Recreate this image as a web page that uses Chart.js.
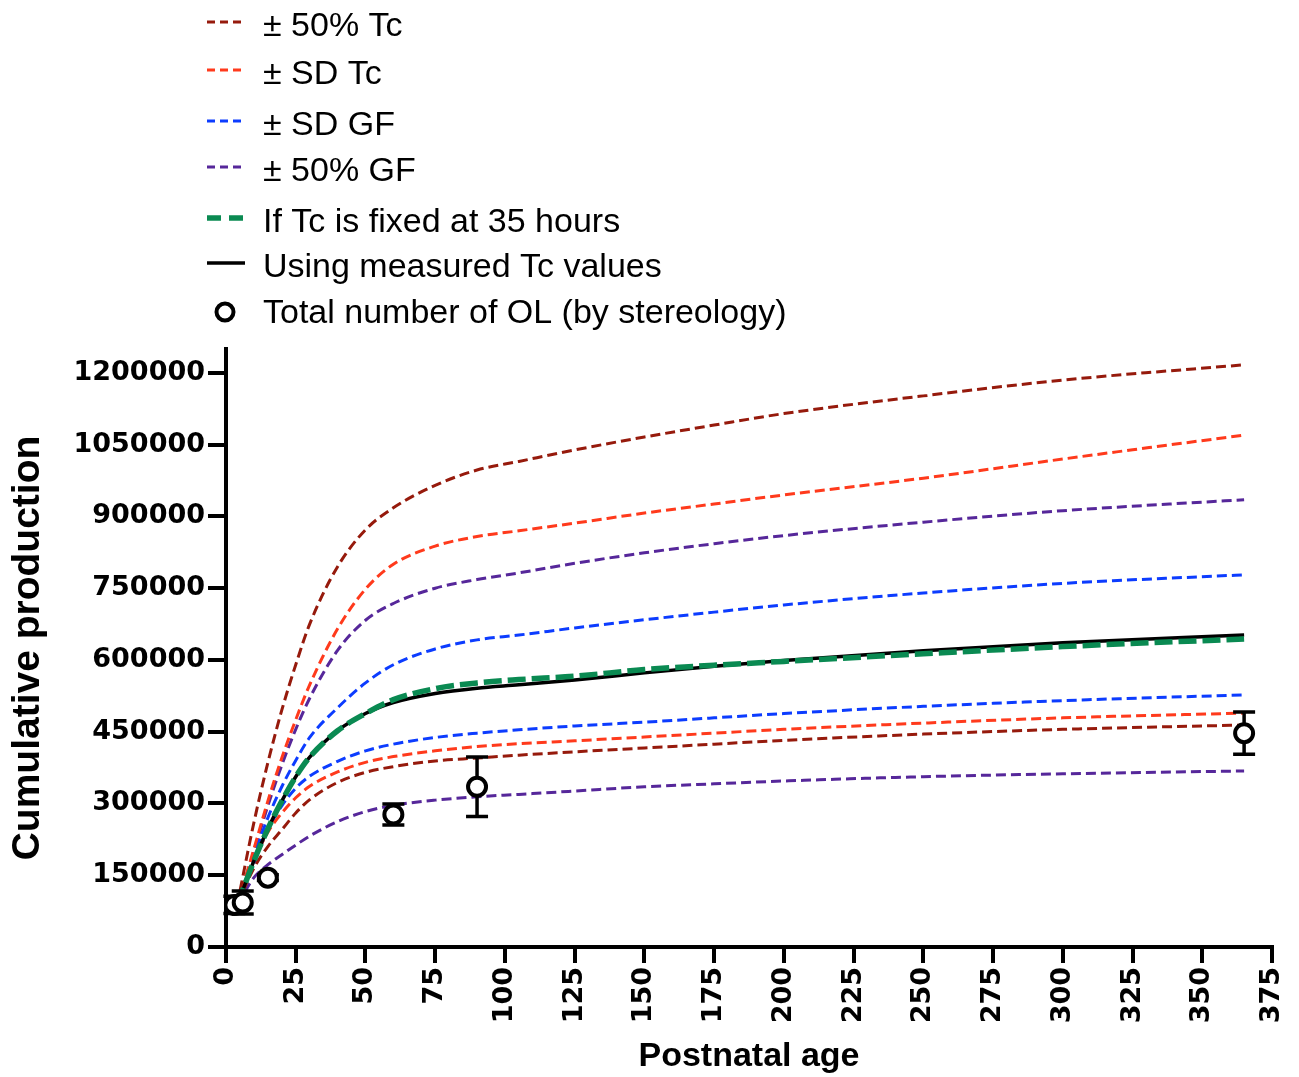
<!DOCTYPE html>
<html>
<head>
<meta charset="utf-8">
<script src="https://cdn.jsdelivr.net/npm/chart.js@4.4.1/dist/chart.umd.min.js"></script>
<style>
  html, body { margin: 0; padding: 0; background: #fff; }
  #wrap { width: 1299px; height: 1077px; position: relative; }
</style>
</head>
<body>
<div id="wrap"><canvas id="c"></canvas></div>
<script>
// ---------- DATA ----------
const AGE = [4, 10, 15, 20, 25, 30, 40, 50, 60, 75, 90, 105, 125, 150, 175, 200, 250, 300, 365];

const TC50_UP  = [88000, 260000, 385000, 495000, 590000, 675000, 795000, 872000, 918000, 965000, 997000, 1015000, 1039000, 1066000, 1091000, 1115000, 1152000, 1185000, 1217000];
const TC50_LOW = [88000, 165000, 210000, 245000, 280000, 308000, 344000, 365000, 377000, 389000, 395000, 401000, 408000, 416000, 424000, 432000, 445000, 455000, 464000];
const TCSD_UP  = [88000, 205000, 305000, 395000, 475000, 548000, 665000, 748000, 800000, 838000, 858000, 870000, 886000, 907000, 926000, 945000, 980000, 1020000, 1070000];
const TCSD_LOW = [88000, 180000, 240000, 280000, 312000, 336000, 366000, 386000, 398000, 410000, 419000, 425000, 431000, 439000, 447000, 455000, 468000, 479000, 489000];
const GFSD_UP  = [88000, 190000, 270000, 335000, 390000, 438000, 500000, 552000, 590000, 623000, 642000, 652000, 667000, 684000, 700000, 715000, 740000, 760000, 778000];
const GFSD_LOW = [88000, 175000, 245000, 295000, 332000, 357000, 388000, 410000, 424000, 438000, 447000, 454000, 462000, 470000, 479000, 488000, 503000, 515000, 527000];
const GF50_UP  = [88000, 200000, 295000, 380000, 455000, 520000, 620000, 683000, 718000, 750000, 768000, 782000, 802000, 824000, 843000, 860000, 888000, 912000, 935000];
const GF50_LOW = [88000, 145000, 172000, 193000, 213000, 232000, 262000, 283000, 296000, 307000, 314000, 319000, 326000, 335000, 341000, 347000, 356000, 362000, 368000];
const TC35     = [88000, 180000, 247000, 305000, 356000, 397000, 452000, 488000, 517000, 540000, 552000, 559000, 566000, 580000, 589000, 597000, 613000, 628000, 644000];
const MEASURED = [88000, 180000, 247000, 305000, 356000, 397000, 452000, 488000, 511000, 530000, 541000, 548000, 558000, 573000, 587000, 599000, 619000, 636000, 652000];

const OBS_AGE = [3, 6, 15, 60, 90, 365];
const OBS_N   = [88000, 93000, 145000, 277000, 335000, 447000];
const OBS_ERR = [18000, 24000, 6000, 22000, 62000, 44000];

const X_TICKS = [0, 25, 50, 75, 100, 125, 150, 175, 200, 225, 250, 275, 300, 325, 350, 375];
const Y_TICKS = [0, 150000, 300000, 450000, 600000, 750000, 900000, 1050000, 1200000];

const LEGEND_LABELS = ['\u00B1 50% Tc', '\u00B1 SD Tc', '\u00B1 SD GF', '\u00B1 50% GF',
  'If Tc is fixed at 35 hours', 'Using measured Tc values', 'Total number of OL (by stereology)'];

// ---------- STYLES ----------
const C_DARKRED = '#961a0c';
const C_RED = '#ff3a1c';
const C_BLUE = '#0c3cff';
const C_PURPLE = '#56279a';
const C_GREEN = '#0a8a52';
const THIN = 3;
const THIN_DASH = [10, 5];

function pts(ys) { return AGE.map((x, i) => ({ x: x, y: ys[i] })); }
function curve(label, ys, color) {
  return { label, data: pts(ys), borderColor: color, borderWidth: THIN, borderDash: THIN_DASH,
    pointRadius: 0, fill: false, cubicInterpolationMode: 'monotone' };
}

const datasets = [
  { label: 'obs', type: 'scatter', data: OBS_AGE.map((x, i) => ({ x: x, y: OBS_N[i] })),
    pointRadius: 9, pointHoverRadius: 9, pointBorderWidth: 4, pointBorderColor: '#000',
    pointBackgroundColor: '#fff', showLine: false },
  { label: 'tc35', data: pts(TC35), borderColor: C_GREEN, borderWidth: 5.5, borderDash: [18, 6],
    pointRadius: 0, fill: false, cubicInterpolationMode: 'monotone' },
  { label: 'meas', data: pts(MEASURED), borderColor: '#000', borderWidth: 3.5,
    pointRadius: 0, fill: false, cubicInterpolationMode: 'monotone' },
  curve('tc50u', TC50_UP, C_DARKRED),
  curve('tc50l', TC50_LOW, C_DARKRED),
  curve('tcsdu', TCSD_UP, C_RED),
  curve('tcsdl', TCSD_LOW, C_RED),
  curve('gfsdu', GFSD_UP, C_BLUE),
  curve('gfsdl', GFSD_LOW, C_BLUE),
  curve('gf50u', GF50_UP, C_PURPLE),
  curve('gf50l', GF50_LOW, C_PURPLE)
];

// legend entries reference dataset indices
const LEGEND_DS = [3, 5, 7, 9, 1, 2, 0];
const LEGEND_Y = [25, 73, 124, 170, 221, 266, 312];

const errorBars = {
  id: 'errorBars',
  beforeDatasetDraw(chart, args) {
    if (args.index !== 0) return;
    const ctx = chart.ctx, xs = chart.scales.x, ys = chart.scales.y;
    ctx.save();
    ctx.strokeStyle = '#000';
    ctx.lineWidth = 3.5;
    OBS_AGE.forEach((a, i) => {
      const px = xs.getPixelForValue(a);
      const top = ys.getPixelForValue(OBS_N[i] + OBS_ERR[i]);
      const bot = ys.getPixelForValue(OBS_N[i] - OBS_ERR[i]);
      ctx.beginPath();
      ctx.moveTo(px, top); ctx.lineTo(px, bot);
      ctx.moveTo(px - 11, top); ctx.lineTo(px + 11, top);
      ctx.moveTo(px - 11, bot); ctx.lineTo(px + 11, bot);
      ctx.stroke();
    });
    ctx.restore();
  }
};

const customLegend = {
  id: 'customLegend',
  afterDraw(chart) {
    const ctx = chart.ctx;
    ctx.save();
    ctx.font = '34px "Liberation Sans", Arial, sans-serif';
    ctx.textBaseline = 'middle';
    ctx.fillStyle = '#000';
    LEGEND_DS.forEach((di, i) => {
      const ds = chart.data.datasets[di];
      const y = LEGEND_Y[i];
      if (ds.type === 'scatter') {
        ctx.beginPath();
        ctx.arc(225, y, 8.5, 0, Math.PI * 2);
        ctx.fillStyle = '#fff';
        ctx.fill();
        ctx.lineWidth = 4;
        ctx.strokeStyle = '#000';
        ctx.stroke();
      } else {
        ctx.beginPath();
        ctx.strokeStyle = ds.borderColor;
        ctx.lineWidth = ds.borderWidth;
        if (ds.borderDash) {
          ctx.setLineDash(ds.borderWidth > 4 ? [14, 8] : [8, 5]);
        } else {
          ctx.setLineDash([]);
        }
        ctx.moveTo(207, y - 3);
        ctx.lineTo(245, y - 3);
        ctx.stroke();
        ctx.setLineDash([]);
      }
      ctx.fillStyle = '#000';
      ctx.fillText(LEGEND_LABELS[i], 263, y + 2);
    });
    ctx.restore();
  }
};

Chart.defaults.font.family = '"Liberation Sans", Arial, sans-serif';
Chart.defaults.color = '#000';

new Chart(document.getElementById('c'), {
  type: 'line',
  data: { datasets },
  plugins: [errorBars, customLegend],
  options: {
    responsive: true,
    maintainAspectRatio: false,
    animation: false,
    layout: { padding: { top: 349, right: 27, left: 0, bottom: 0 } },
    plugins: { legend: { display: false }, tooltip: { enabled: false } },
    scales: {
      x: {
        type: 'linear', min: 0, max: 375,
        afterFit(s) { s.height = 130; s.paddingLeft = 0; s.paddingRight = 0; },
        afterBuildTicks(s) { s.ticks = X_TICKS.map(v => ({ value: v })); },
        border: { display: true, color: '#000', width: 4 },
        grid: { drawOnChartArea: false, drawTicks: true, tickLength: 16, lineWidth: 4, color: '#000' },
        ticks: { autoSkip: false, minRotation: 90, maxRotation: 90, padding: 4,
          font: { family: '"DejaVu Sans", sans-serif', weight: 'bold', size: 27 }, color: '#000',
          callback: (v) => String(v) },
        title: { display: true, text: 'Postnatal age', padding: { top: 0, bottom: 0 },
          font: { family: '"Liberation Sans", Arial, sans-serif', weight: 'bold', size: 34, lineHeight: 1.2 }, color: '#000' }
      },
      y: {
        type: 'linear', min: 0, max: 1250000,
        afterFit(s) { s.width = 226; s.paddingTop = 0; s.paddingBottom = 0; },
        afterBuildTicks(s) { s.ticks = Y_TICKS.map(v => ({ value: v })); },
        border: { display: true, color: '#000', width: 4 },
        grid: { drawOnChartArea: false, drawTicks: true, tickLength: 18, lineWidth: 4, color: '#000' },
        ticks: { autoSkip: false, padding: 3,
          font: { family: '"DejaVu Sans", sans-serif', weight: 'bold', size: 27 }, color: '#000',
          callback: (v) => String(v) },
        title: { display: true, text: 'Cumulative production', padding: { top: 5, bottom: 0 },
          font: { family: '"Liberation Sans", Arial, sans-serif', weight: 'bold', size: 39, lineHeight: 1.2 }, color: '#000' }
      }
    }
  }
});
</script>
</body>
</html>
